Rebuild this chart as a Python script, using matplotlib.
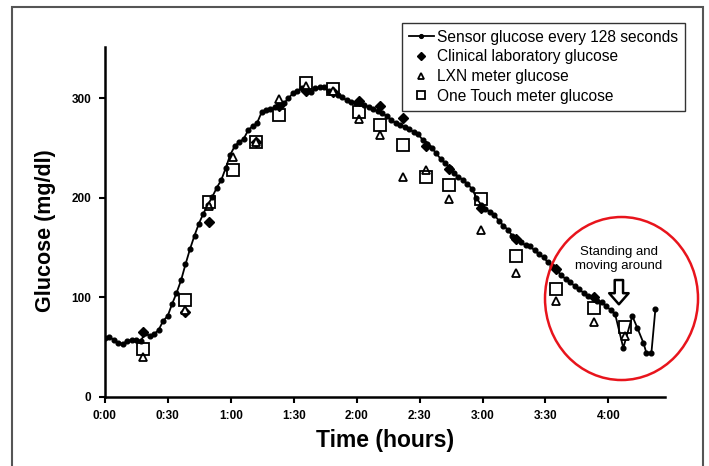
import matplotlib
matplotlib.use("Agg")
import matplotlib.pyplot as plt
from matplotlib.patches import Ellipse, Rectangle

plt.rcParams['font.family'] = ['Liberation Sans', 'DejaVu Sans']

# sensor glucose (minutes, mg/dl)
sensor_t = [0.0, 2.1, 4.3, 6.4, 8.5, 10.7, 12.8, 14.9, 17.1, 19.2,
            21.3, 23.5, 25.6, 27.7, 29.9, 32.0, 34.1, 36.3, 38.4, 40.5,
            42.7, 44.8, 46.9, 49.1, 51.2, 53.3, 55.5, 57.6, 59.7, 61.9,
            64.0, 66.1, 68.3, 70.4, 72.5, 74.7, 76.8, 78.9, 81.1, 83.2,
            85.3, 87.5, 89.6, 91.7, 93.9, 96.0, 98.1, 100.3, 102.4, 104.5,
            106.7, 108.8, 110.9, 113.1, 115.2, 117.3, 119.5, 121.6, 123.7, 125.9,
            128.0, 130.1, 132.3, 134.4, 136.5, 138.7, 140.8, 142.9, 145.1, 147.2,
            149.3, 151.5, 153.6, 155.7, 157.9, 160.0, 162.1, 164.3, 166.4, 168.5,
            170.7, 172.8, 174.9, 177.1, 179.2, 181.3, 183.5, 185.6, 187.7, 189.9,
            192.0, 194.1, 196.3, 198.4, 200.5, 202.7, 204.8, 206.9, 209.1, 211.2,
            213.3, 215.5, 217.6, 219.7, 221.9, 224.0, 226.1, 228.3, 230.4, 232.5,
            234.7, 236.8, 238.9, 241.1, 243.2, 247.1, 251.4, 253.8, 256.7, 258.1,
            260.5, 262.4]
sensor_g = [59, 60, 57, 54, 53, 56, 57, 57, 56, 64,
            61, 63, 67, 76, 81, 93, 104, 117, 133, 148,
            162, 174, 184, 193, 201, 210, 218, 230, 243, 252,
            256, 259, 268, 272, 275, 286, 288, 289, 291, 292,
            295, 300, 305, 307, 310, 308, 306, 310, 311, 311,
            307, 306, 303, 301, 298, 296, 295, 295, 293, 291,
            289, 287, 285, 282, 278, 275, 273, 271, 269, 266,
            264, 258, 254, 250, 245, 239, 235, 230, 225, 221,
            218, 214, 209, 200, 193, 189, 186, 183, 177, 172,
            168, 162, 158, 155, 152, 151, 147, 143, 140, 135,
            131, 127, 122, 118, 115, 111, 108, 104, 101, 100,
            96, 95, 91, 87, 83, 49, 81, 69, 54, 44,
            44, 88]

# clinical laboratory glucose
lab_t = [18, 38, 49.5, 72, 83, 96, 108.5, 121, 131, 142, 153, 164, 179.5, 196, 215, 233]
lab_g = [65, 85, 176, 256, 292, 307, 306, 297, 292, 280, 252, 229, 190, 158, 128, 100]

# LXN meter glucose
lxn_t = [18, 38, 49.5, 61, 72, 83, 96, 108.5, 121, 131, 142, 153, 164, 179.5, 196, 215, 233, 248]
lxn_g = [40, 87, 192, 241, 256, 299, 312, 307, 279, 263, 221, 228, 199, 168, 124, 96, 75, 61]

# One Touch meter glucose
ot_t = [18, 38, 49.5, 61, 72, 83, 96, 108.5, 121, 131, 142, 153, 164, 179.5, 196, 215, 233, 248]
ot_g = [48, 97, 196, 228, 256, 283, 315, 309, 286, 273, 253, 221, 213, 199, 141, 108, 89, 70]

tick_pos = [0, 30, 60, 90, 120, 150, 180, 210, 240]
tick_lab = ['0:00', '0:30', '1:00', '1:30', '2:00', '2:30', '3:00', '3:30', '4:00']

fig = plt.figure(figsize=(7.09, 4.66), dpi=100)
ax = fig.add_axes([0.148, 0.149, 0.79, 0.751])

ax.plot(sensor_t, sensor_g, color='black', lw=1.3, marker='o', ms=3.4,
        label='Sensor glucose every 128 seconds', zorder=3)
ax.plot(lab_t, lab_g, linestyle='none', marker='D', ms=5, color='black',
        label='Clinical laboratory glucose', zorder=4)
ax.plot(lxn_t, lxn_g, linestyle='none', marker='^', ms=6, mfc='white', mec='black',
        mew=1.3, label='LXN meter glucose', zorder=5)
ax.plot(ot_t, ot_g, linestyle='none', marker='s', ms=8, mfc='none', mec='black',
        mew=1.3, label='One Touch meter glucose', zorder=5)

ax.set_xlim(0, 267)
ax.set_ylim(0, 352)
ax.set_xticks(tick_pos)
ax.set_xticklabels(tick_lab)
ax.set_yticks([0, 100, 200, 300])
for s in ['top', 'right']:
    ax.spines[s].set_visible(False)
for s in ['left', 'bottom']:
    ax.spines[s].set_linewidth(1.8)
ax.tick_params(width=1.5, length=4, labelsize=8.5, pad=6)
for lbl in ax.get_xticklabels() + ax.get_yticklabels():
    lbl.set_fontweight('bold')

ax.set_xlabel('Time (hours)', fontsize=16.5, fontweight='bold')
ax.xaxis.set_label_coords(0.5, -0.092)
ax.set_ylabel('Glucose (mg/dl)', fontsize=15.5, fontweight='bold')
ax.yaxis.set_label_coords(-0.087, 0.473)

leg = ax.legend(loc='upper left', bbox_to_anchor=(0.530, 1.068), fontsize=11.2,
                frameon=True, fancybox=False, edgecolor='black', borderpad=0.45,
                labelspacing=0.3, handlelength=1.6, handletextpad=0.2,
                borderaxespad=0, markerscale=0.8)
leg.get_frame().set_linewidth(1.0)

# annotation for the end of the run
ax.text(245, 138, 'Standing and\nmoving around', ha='center', va='center',
        fontsize=9.5, linespacing=1.2)
ax.annotate('', xy=(245, 90), xytext=(245, 120),
            arrowprops=dict(arrowstyle='simple,head_width=1.4,head_length=0.8,tail_width=0.6',
                            fc='white', ec='black', lw=1.8))

fig.patches.append(Ellipse((0.8766, 0.3594), 0.2158, 0.3498, transform=fig.transFigure,
                           fill=False, ec='#e8141c', lw=1.8))
fig.patches.append(Rectangle((0.017, -0.05), 0.9745, 1.035, transform=fig.transFigure,
                             fill=False, ec='#555555', lw=1.5))

fig.savefig('out.png', dpi=100)
